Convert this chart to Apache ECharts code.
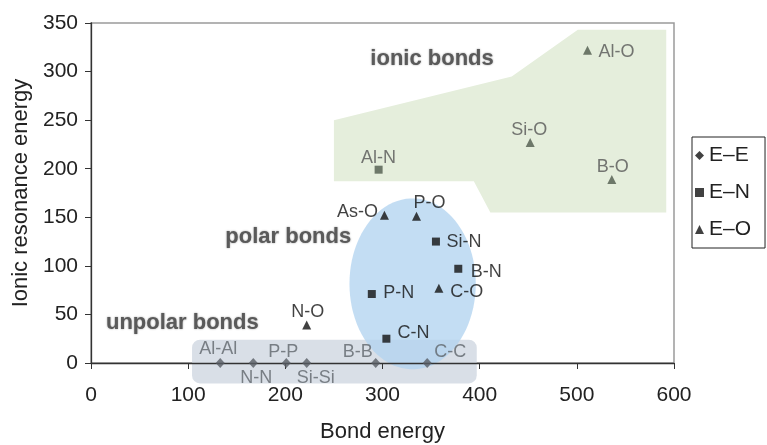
<!DOCTYPE html>
<html>
<head>
<meta charset="utf-8">
<script src="https://cdn.jsdelivr.net/npm/echarts@6/dist/echarts.min.js"></script>
<style>
  html, body { margin: 0; padding: 0; background: #fff; }
  #chart { width: 767px; height: 445px; }
</style>
</head>
<body>
<div id="chart"></div>
<script>
// bond types: E-E (homonuclear), E-N, E-O
var eeNames = ["Al-Al", "N-N", "P-P", "Si-Si", "B-B", "C-C"];
var eeBond = [133, 167, 201, 222, 293, 346];
var eeIonic = [0, 0, 0, 0, 0, 0];

var enNames = ["Al-N", "P-N", "Si-N", "B-N", "C-N"];
var enBond = [296, 289, 355, 378, 304];
var enIonic = [199, 71, 125, 97, 25];

var eoNames = ["Al-O", "Si-O", "B-O", "As-O", "P-O", "C-O", "N-O"];
var eoBond = [511, 452, 536, 302, 335, 358, 222];
var eoIonic = [322, 227, 189, 152, 151, 77, 39];

var xTicks = [0, 100, 200, 300, 400, 500, 600];
var yTicks = [0, 50, 100, 150, 200, 250, 300, 350];

// points sitting in the ionic (green) region are drawn grey
var ionicMembers = ["Al-N", "Si-O", "B-O", "Al-O"];

// label offsets (px) from the marker centre
var labelOffset = {
  "Al-Al": [-2, -14], "N-N": [3, 15], "P-P": [-3, -11], "Si-Si": [9, 15],
  "B-B": [-18, -11], "C-C": [23, -11],
  "Al-N": [0, -12], "P-N": [27, -1], "Si-N": [28, 0], "B-N": [28, 3], "C-N": [27, -6],
  "Al-O": [29, 2], "Si-O": [-1, -12], "B-O": [1, -12], "As-O": [-27, -3],
  "P-O": [13, -13], "C-O": [28, 4], "N-O": [1, -13]
};

// shaded regions, in data units
var ionicRegion = [[250, 250], [433, 295], [501, 343], [592, 343], [592, 155], [411, 155], [394, 187], [250, 187]];
var unpolarBox = [104, 397, -21, 24];
var polarEllipse = [331, 81.5, 65, 88];
var regionText = [
  { text: "ionic bonds", at: [351, 313.5] },
  { text: "polar bonds", at: [203, 130] },
  { text: "unpolar bonds", at: [94, 41.7] }
];

var FONT = "'Liberation Sans', Arial, Helvetica, sans-serif";

function points(names, xs, ys) {
  return names.map(function (n, i) {
    var off = labelOffset[n] || [0, -12];
    return {
      name: n,
      value: [xs[i], ys[i]],
      label: { offset: off }
    };
  });
}

function pointColor(dark) {
  return function (p) {
    return ionicMembers.indexOf(p.name) >= 0 ? "#4f5a4c" : dark;
  };
}

function regionLabel(api, t) {
  var p = api.coord(t.at);
  return {
    type: "text",
    style: {
      text: t.text, x: p[0], y: p[1],
      align: "center", verticalAlign: "middle",
      font: "bold 22px " + FONT,
      fill: "#5a5a5a",
      textShadowBlur: 2,
      textShadowColor: "rgba(0,0,0,0.4)"
    }
  };
}

var myChart = echarts.init(document.getElementById("chart"));

var option = {
  animation: false,
  textStyle: { fontFamily: FONT },
  grid: {
    left: 91, right: 93, top: 23, bottom: 82,
    containLabel: false,
    outerBoundsMode: "none",
    show: true, borderColor: "#9a9a9a", borderWidth: 1.5, backgroundColor: "transparent"
  },
  legend: {
    orient: "vertical",
    left: 692,
    top: 137,
    padding: [8, 14, 8, 3],
    borderColor: "#222",
    borderWidth: 1,
    itemWidth: 9,
    itemHeight: 9,
    itemGap: 16,
    textStyle: { fontSize: 21, color: "#222", fontFamily: FONT },
    data: [
      { name: "E–E", icon: "diamond", itemStyle: { color: "#111" } },
      { name: "E–N", icon: "rect", itemStyle: { color: "#111" } },
      { name: "E–O", icon: "triangle", itemStyle: { color: "#111" } }
    ]
  },
  xAxis: {
    type: "value",
    min: xTicks[0],
    max: xTicks[xTicks.length - 1],
    interval: 100,
    z: 3,
    name: "Bond energy",
    nameLocation: "middle",
    nameGap: 58,
    nameTextStyle: { fontSize: 22, color: "#222" },
    axisLine: { show: true, onZero: false, lineStyle: { color: "#333", width: 1.3 } },
    axisTick: { show: true, length: 6, lineStyle: { color: "#333" } },
    axisLabel: { fontSize: 21, color: "#222", margin: 22 },
    splitLine: { show: false }
  },
  yAxis: {
    type: "value",
    min: yTicks[0],
    max: yTicks[yTicks.length - 1],
    interval: 50,
    z: 3,
    name: "Ionic resonance energy",
    nameLocation: "middle",
    nameGap: 58,
    nameTextStyle: { fontSize: 22, color: "#222" },
    axisLine: { show: true, onZero: false, lineStyle: { color: "#333", width: 1.3 } },
    axisTick: { show: true, length: 6, lineStyle: { color: "#333" } },
    axisLabel: { fontSize: 21, color: "#222", margin: 13 },
    splitLine: { show: false }
  },
  series: [
    {
      type: "custom",
      name: "regions",
      silent: true,
      clip: false,
      z: 1,
      data: [0, 1, 2],
      renderItem: function (params, api) {
        var i = params.dataIndex;
        if (i === 0) {
          var a = api.coord([unpolarBox[0], unpolarBox[3]]);
          var b = api.coord([unpolarBox[1], unpolarBox[2]]);
          return {
            type: "group",
            children: [
              { type: "rect", shape: { x: a[0], y: a[1], width: b[0] - a[0], height: b[1] - a[1], r: 8 },
                style: { fill: "#d9dfe7" } },
              regionLabel(api, regionText[2])
            ]
          };
        }
        if (i === 1) {
          return {
            type: "group",
            children: [
              { type: "polygon", shape: { points: ionicRegion.map(function (p) { return api.coord(p); }) },
                style: { fill: "#e5eedc" } },
              regionLabel(api, regionText[0])
            ]
          };
        }
        var c = api.coord([polarEllipse[0], polarEllipse[1]]);
        var rx = api.size([polarEllipse[2], 0])[0];
        var ry = api.size([0, polarEllipse[3]])[1];
        var pts = [];
        for (var k = 0; k < 90; k++) {
          var t = (k / 90) * Math.PI * 2;
          pts.push([c[0] + rx * Math.cos(t), c[1] + ry * Math.sin(t)]);
        }
        return {
          type: "group",
          children: [
            { type: "polygon", shape: { points: pts }, style: { fill: "rgba(178,212,240,0.78)" } },
            regionLabel(api, regionText[1])
          ]
        };
      }
    },
    {
      type: "scatter",
      name: "E–E",
      z: 4,
      symbol: "diamond",
      symbolSize: [9, 10],
      itemStyle: { color: "#575d64" },
      label: { show: true, position: "inside", formatter: "{b}", fontSize: 18, color: "#5f656c" },
      data: points(eeNames, eeBond, eeIonic)
    },
    {
      type: "scatter",
      name: "E–N",
      z: 4,
      symbol: "rect",
      symbolSize: 8,
      itemStyle: { color: pointColor("#111") },
      label: { show: true, position: "inside", formatter: "{b}", fontSize: 18, color: "#111" },
      data: points(enNames, enBond, enIonic)
    },
    {
      type: "scatter",
      name: "E–O",
      z: 4,
      symbol: "triangle",
      symbolSize: 9,
      itemStyle: { color: pointColor("#111") },
      label: { show: true, position: "inside", formatter: "{b}", fontSize: 18, color: "#111" },
      data: points(eoNames, eoBond, eoIonic)
    }
  ]
};

// grey labels inside the ionic region
[option.series[2], option.series[3]].forEach(function (s) {
  s.data.forEach(function (d) {
    if (ionicMembers.indexOf(d.name) >= 0) d.label.color = "#555";
  });
});

myChart.setOption(option);
</script>
</body>
</html>
